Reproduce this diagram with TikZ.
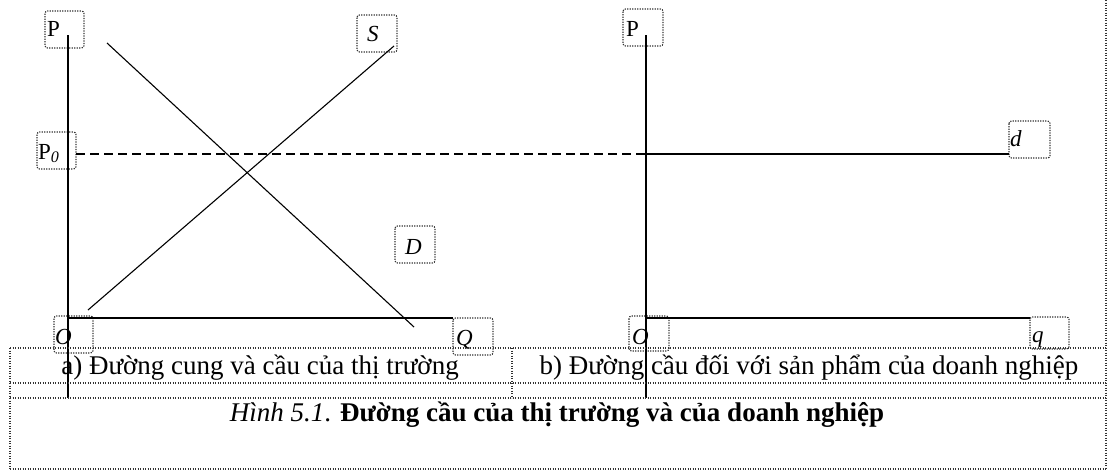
\documentclass[tikz,border=0pt]{standalone}
\usepackage{fontspec}
\setmainfont{Liberation Serif}
\begin{document}
\begin{tikzpicture}[x=1pt,y=-1pt,
  box/.style={draw=black!80, dash pattern=on 1.3pt off 1.2pt, line width=1.1pt, rounded corners=2.5pt},
  lbl/.style={anchor=base west, inner sep=0pt, font=\fontsize{23}{27}\selectfont},
  axis/.style={line width=1.4pt, black},
  curve/.style={line width=1.1pt, black},
  gridln/.style={draw=black!80, dash pattern=on 1.3pt off 1.2pt, line width=1.1pt},
  captxt/.style={inner sep=0pt, anchor=base, font=\fontsize{27}{32}\selectfont}]
\useasboundingbox (0,0) rectangle (1113,471);
% label boxes
\draw[box] (45,11) rectangle (84,48);
\draw[box] (357,15) rectangle (397,52);
\draw[box] (37,132) rectangle (76,169);
\draw[box] (395,226) rectangle (435,263);
\draw[box] (54,316) rectangle (93,353);
\draw[box] (453,318) rectangle (493,355);
\draw[box] (623,9) rectangle (663,46);
\draw[box] (1009,121) rectangle (1050,158);
\draw[box] (629,316) rectangle (669,351);
\draw[box] (1030,317) rectangle (1069,349);
% label texts
\node[lbl] (tP1) at (47,36) {P};
\node[lbl] (tS) at (367,41) {\itshape S};
\node[lbl] (tP0) at (38,159) {P\textsubscript{\itshape 0}};
\node[lbl] (tD) at (405,254) {\itshape D};
\node[lbl] (tO1) at (55,344) {\itshape O};
\node[lbl] (tQ) at (456,345) {\itshape Q};
\node[lbl] (tP2) at (626,36) {P};
\node[lbl] (td) at (1010,146) {\itshape d};
\node[lbl] (tO2) at (632,344) {\itshape O};
\node[lbl] (tq) at (1032,342) {\itshape q};
% coordinates
\coordinate (A1top) at (68,35);
\coordinate (A1bot) at (68,398);
\coordinate (O1) at (68,318);
\coordinate (Q1) at (453,318);
\coordinate (A2top) at (646,35);
\coordinate (A2bot) at (646,398);
\coordinate (O2) at (646,318);
\coordinate (Q2) at (1030,318);
\coordinate (P0) at (76,154);
\coordinate (E2) at (646,154);
\coordinate (dEnd) at (1009,154);
\coordinate (Dtop) at (107,43);
\coordinate (Dbot) at (414,327);
\coordinate (Sbot) at (88,310);
\coordinate (Stop) at (394,46);
% axes
\draw[axis] (A1top) -- (A1bot);
\draw[axis] (O1) -- (Q1);
\draw[axis] (A2top) -- (A2bot);
\draw[axis] (O2) -- (Q2);
% curves
\draw[curve] (Dtop) -- (Dbot);
\draw[curve] (Sbot) -- (Stop);
\draw[line width=1.3pt, dash pattern=on 9pt off 5pt] (P0) -- (E2);
\draw[axis] (E2) -- (dEnd);
% table
\draw[gridln] (10,348) -- (1106,348);
\draw[gridln] (10,383) -- (1106,383);
\draw[gridln] (10,398) -- (1106,398);
\draw[gridln] (10,469) -- (1106,469);
\draw[gridln] (10,348) -- (10,469);
\draw[gridln] (512,348) -- (512,398);
\draw[gridln] (1106,0) -- (1106,469);
% captions
\node[captxt] (capa) at (260,374) {a) Đường cung và cầu của thị trường};
\node[captxt] (capb) at (809,374) {b) Đường cầu đối với sản phẩm của doanh nghiệp};
\node[captxt] (capm) at (557,421) {\textit{Hình 5.1}. \textbf{Đường cầu của thị trường và của doanh nghiệp}};
\end{tikzpicture}
\end{document}
